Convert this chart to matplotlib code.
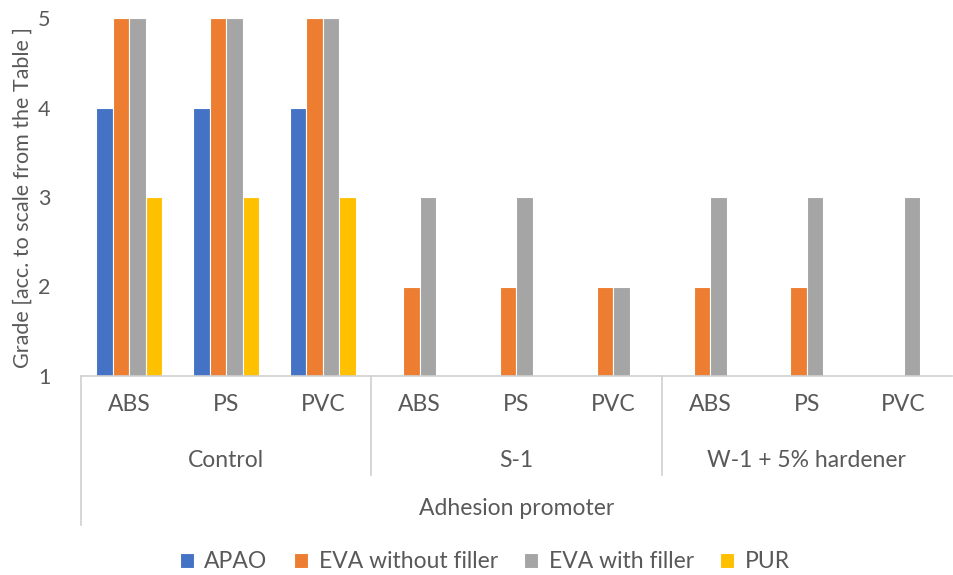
import matplotlib
matplotlib.use("Agg")
import matplotlib.pyplot as plt
import matplotlib.transforms as mtransforms
import numpy as np

plt.rcParams['font.family'] = ['Lato', 'DejaVu Sans']

materials = ["ABS", "PS", "PVC", "ABS", "PS", "PVC", "ABS", "PS", "PVC"]
groups = ["Control", "S-1", "W-1 + 5% hardener"]
outer_label = "Adhesion promoter"
series_names = ["APAO", "EVA without filler", "EVA with filler", "PUR"]
apao = [4, 4, 4, 1, 1, 1, 1, 1, 1]
eva_without = [5, 5, 5, 2, 2, 2, 2, 2, 1]
eva_with = [5, 5, 5, 3, 3, 2, 3, 3, 3]
pur = [3, 3, 3, 1, 1, 1, 1, 1, 1]
y_ticks = [1, 2, 3, 4, 5]
y_label = "Grade [acc. to scale from the Table ]"

colors = ["#4472C4", "#ED7D31", "#A5A5A5", "#FFC000"]
text_color = "#595959"
line_color = "#D0D0D0"

W, H = 954, 575
fig = plt.figure(figsize=(W / 100, H / 100), dpi=100)
ax = fig.add_axes([81 / W, (H - 376) / H, (952 - 81) / W, (376 - 18) / H])

x = np.arange(len(materials))
slot = 0.17
series = [apao, eva_without, eva_with, pur]
for i, (vals, c, name) in enumerate(zip(series, colors, series_names)):
    v = np.array(vals, dtype=float)
    ax.bar(x + (i - 1.5) * slot, v - 1, bottom=1, width=slot, color=c,
           edgecolor="white", linewidth=0.8, label=name, zorder=2)

ax.set_xlim(-0.5, len(materials) - 0.5)
ax.set_ylim(1, 5)
ax.set_yticks(y_ticks)
ax.set_yticklabels([str(t) for t in y_ticks], fontsize=15.5, color=text_color)
ax.tick_params(axis="y", length=0, pad=22)
ax.set_xticks([])
for s in ax.spines.values():
    s.set_visible(False)

ax.set_ylabel(y_label, fontsize=15.5, color=text_color)
ax.yaxis.set_label_coords(-0.055, 0.5)

trans = mtransforms.blended_transform_factory(ax.transData, ax.transAxes)
# horizontal axis line
ax.plot([-0.5, len(materials) - 0.5], [0, 0], transform=trans, color=line_color,
        lw=1.2, clip_on=False, zorder=5)
# left long line
ax.plot([-0.5, -0.5], [0, -0.416], transform=trans, color=line_color,
        lw=1.2, clip_on=False, zorder=5)
# group separators
for sep in [2.5, 5.5]:
    ax.plot([sep, sep], [0, -0.277], transform=trans, color=line_color,
            lw=1.2, clip_on=False, zorder=5)

fs = 16.5
for xi, m in zip(x, materials):
    ax.text(xi, -0.081, m, transform=trans, ha="center", va="center",
            fontsize=fs, color=text_color)
for gi, g in enumerate(groups):
    ax.text(gi * 3 + 1, -0.235, g, transform=trans, ha="center", va="center",
            fontsize=fs, color=text_color)
ax.text((len(materials) - 1) / 2, -0.369, outer_label, transform=trans,
        ha="center", va="center", fontsize=fs, color=text_color)

handles, labels = ax.get_legend_handles_labels()
leg = fig.legend(handles, labels, loc="center", bbox_to_anchor=(485 / W, 1 - 562 / H),
                 ncol=4, frameon=False, fontsize=16.5, handlelength=0.6,
                 handleheight=0.6, handletextpad=0.45, columnspacing=1.17)
for t in leg.get_texts():
    t.set_color(text_color)

fig.savefig("out.png", dpi=100, facecolor="white")
